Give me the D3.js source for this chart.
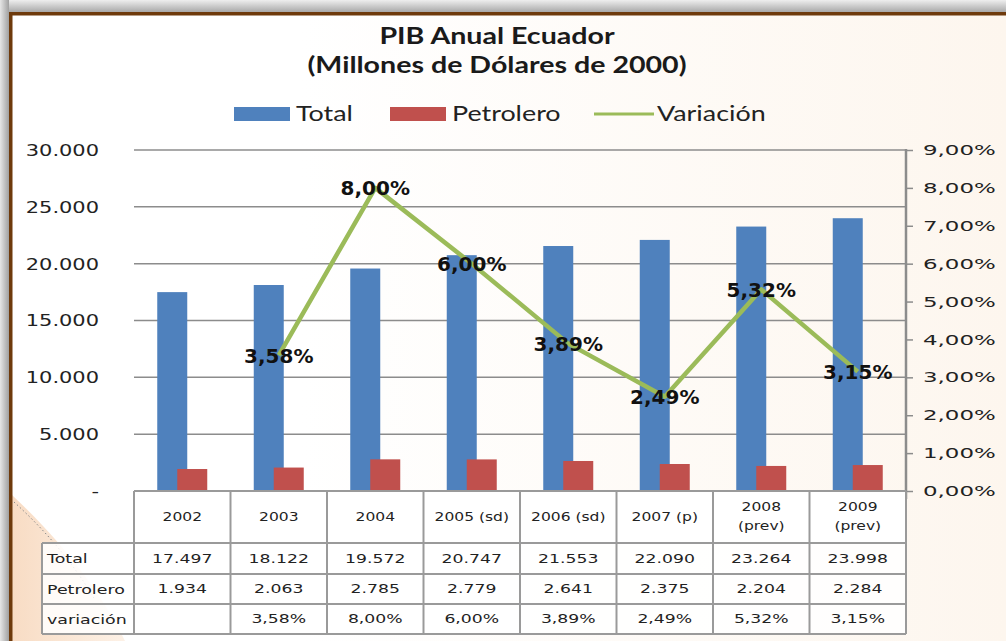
<!DOCTYPE html>
<html>
<head>
<meta charset="utf-8">
<script src="https://cdn.jsdelivr.net/npm/d3@7"></script>
<style>
  body { margin: 0; background: #fff; }
  svg { display: block; }
</style>
</head>
<body>
<div id="chart"></div>
<script>
// data
var years = ["2002", "2003", "2004", "2005 (sd)", "2006 (sd)", "2007 (p)", "2008 (prev)", "2009 (prev)"];
var total = [17497, 18122, 19572, 20747, 21553, 22090, 23264, 23998];
var petrolero = [1934, 2063, 2785, 2779, 2641, 2375, 2204, 2284];
var variacion = [null, 0.0358, 0.08, 0.06, 0.0389, 0.0249, 0.0532, 0.0315];
var leftTicks = [0, 5000, 10000, 15000, 20000, 25000, 30000];
var rightTicks = [0, 0.01, 0.02, 0.03, 0.04, 0.05, 0.06, 0.07, 0.08, 0.09];
var rowLabels = ["Total", "Petrolero", "variación"];
var seriesNames = ["Total", "Petrolero", "Variación"];

var W = 1006, H = 641;
var plot = { left: 134, right: 906, top: 150, bottom: 491 };

var es = d3.formatLocale({ decimal: ",", thousands: ".", grouping: [3], currency: ["$", ""] });
var fmtNum = es.format(",d");
var fmtPct = es.format(".2%");

var blue = "#4F81BD", red = "#C0504D", green = "#9BBB59";
var sansWide = "'DejaVu Sans', Verdana, sans-serif";
var sansCal = "Lato, 'Open Sans', sans-serif";

var svg = d3.select("#chart").append("svg")
  .attr("width", W)
  .attr("height", H);

var defs = svg.append("defs");
var bg = defs.append("linearGradient").attr("id", "bg").attr("x1", "0").attr("x2", "1").attr("y1", "0").attr("y2", "0");
bg.append("stop").attr("offset", "0.3").attr("stop-color", "#ffffff");
bg.append("stop").attr("offset", "1").attr("stop-color", "#fdf6ee");
var shadeTop = defs.append("linearGradient").attr("id", "shadeTop").attr("x1", "0").attr("x2", "0").attr("y1", "0").attr("y2", "1");
shadeTop.append("stop").attr("offset", "0").attr("stop-color", "#eeeeee");
shadeTop.append("stop").attr("offset", "1").attr("stop-color", "#a9a9a9");
var shadeLeft = defs.append("linearGradient").attr("id", "shadeLeft").attr("x1", "0").attr("x2", "1").attr("y1", "0").attr("y2", "0");
shadeLeft.append("stop").attr("offset", "0").attr("stop-color", "#e6e6e6");
shadeLeft.append("stop").attr("offset", "1").attr("stop-color", "#a0a0a0");
var peach = defs.append("linearGradient").attr("id", "peach").attr("x1", "0").attr("x2", "1").attr("y1", "0").attr("y2", "0");
peach.append("stop").attr("offset", "0").attr("stop-color", "#f8dcc4");
peach.append("stop").attr("offset", "1").attr("stop-color", "#fdf1e6");

// background and frame
svg.append("rect").attr("width", W).attr("height", H).attr("fill", "url(#bg)");
svg.append("path")
  .attr("d", "M12,495 C60,540 100,590 125,641 L12,641 Z")
  .attr("fill", "url(#peach)");
svg.append("path")
  .attr("d", "M14,502 C45,530 75,565 95,600")
  .attr("fill", "none")
  .attr("stroke", "#8a8a8a")
  .attr("stroke-width", 1)
  .attr("stroke-dasharray", "1.5,2.5");
svg.append("rect").attr("x", 0).attr("y", 0).attr("width", W).attr("height", 12).attr("fill", "url(#shadeTop)");
svg.append("rect").attr("x", 0).attr("y", 0).attr("width", 9).attr("height", H).attr("fill", "url(#shadeLeft)");
svg.append("rect").attr("x", 9).attr("y", 12).attr("width", W - 9).attr("height", 3.5).attr("fill", "#6e3a0c");
svg.append("rect").attr("x", 9).attr("y", 12).attr("width", 3.5).attr("height", H - 12).attr("fill", "#6e3a0c");

// title
["PIB Anual Ecuador", "(Millones de Dólares de 2000)"].forEach(function (t, i) {
  svg.append("text")
    .attr("transform", "translate(497," + (44 + i * 29) + ") scale(1.3,1)")
    .attr("text-anchor", "middle")
    .style("font-family", sansCal)
    .style("font-weight", "bold")
    .style("font-size", "22px")
    .attr("fill", "#1a1a1a")
    .text(t);
});

// scales
var x = d3.scaleBand()
  .domain(years)
  .range([plot.left, plot.right]);
var yL = d3.scaleLinear().domain([0, 30000]).range([plot.bottom, plot.top]);
var yR = d3.scaleLinear().domain([0, 0.09]).range([plot.bottom, plot.top]);
var barW = 30;

// gridlines
svg.append("g")
  .selectAll("line")
  .data(leftTicks.filter(function (d) { return d > 0; }))
  .enter().append("line")
  .attr("x1", plot.left).attr("x2", plot.right)
  .attr("y1", function (d) { return yL(d); })
  .attr("y2", function (d) { return yL(d); })
  .attr("stroke", "#8c8c8c")
  .attr("stroke-width", 1.5);

// left tick labels
svg.append("g")
  .selectAll("text")
  .data(leftTicks)
  .enter().append("text")
  .attr("transform", function (d) { return "translate(99," + yL(d) + ") scale(1.27,1)"; })
  .attr("text-anchor", "end")
  .attr("dy", "0.36em")
  .style("font-family", sansWide)
  .style("font-size", "16.5px")
  .attr("fill", "#222")
  .text(function (d) { return d === 0 ? "-" : fmtNum(d); });

// right axis
var rAxis = svg.append("g")
  .attr("transform", "translate(" + plot.right + ",0)")
  .call(d3.axisRight(yR).tickValues(rightTicks).tickSize(7).tickPadding(0).tickFormat(fmtPct));
rAxis.select(".domain").attr("stroke", "#8c8c8c").attr("stroke-width", 2.5)
  .attr("d", "M0," + (plot.top - 1) + "V" + (plot.bottom + 8));
rAxis.selectAll(".tick line").attr("stroke", "#8c8c8c").attr("stroke-width", 1.5);
rAxis.selectAll(".tick text")
  .attr("x", 0)
  .attr("transform", "translate(17,0) scale(1.58,1)")
  .style("font-family", sansWide)
  .style("font-size", "14.5px")
  .attr("fill", "#222");

// bars
svg.append("g")
  .selectAll("rect")
  .data(total)
  .enter().append("rect")
  .attr("x", function (d, i) { return x(years[i]) + x.bandwidth() / 2 - 25; })
  .attr("y", function (d) { return yL(d); })
  .attr("width", barW)
  .attr("height", function (d) { return yL(0) - yL(d); })
  .attr("fill", blue);
svg.append("g")
  .selectAll("rect")
  .data(petrolero)
  .enter().append("rect")
  .attr("x", function (d, i) { return x(years[i]) + x.bandwidth() / 2 - 5; })
  .attr("y", function (d) { return yL(d); })
  .attr("width", barW)
  .attr("height", function (d) { return yL(0) - yL(d); })
  .attr("fill", red);

// variation line
var pts = variacion.map(function (v, i) { return { year: years[i], v: v }; })
  .filter(function (d) { return d.v !== null; });
var line = d3.line()
  .x(function (d) { return x(d.year) + x.bandwidth() / 2; })
  .y(function (d) { return yR(d.v); });
svg.append("path")
  .datum(pts)
  .attr("d", line)
  .attr("fill", "none")
  .attr("stroke", green)
  .attr("stroke-width", 4.5)
  .attr("stroke-linejoin", "round");

svg.append("g")
  .selectAll("text")
  .data(pts)
  .enter().append("text")
  .attr("x", function (d) { return x(d.year) + x.bandwidth() / 2; })
  .attr("y", function (d) { return yR(d.v); })
  .attr("dy", "0.36em")
  .attr("text-anchor", "middle")
  .style("font-family", sansWide)
  .style("font-weight", "bold")
  .style("font-size", "20px")
  .attr("fill", "#111")
  .text(function (d) { return fmtPct(d.v); });

// legend
var legend = svg.append("g").style("font-family", sansCal).style("font-size", "21px");
function legendText(lx, str) {
  legend.append("text")
    .attr("transform", "translate(" + lx + ",121) scale(1.28,1)")
    .attr("fill", "#222")
    .text(str);
}
legend.append("rect").attr("x", 234).attr("y", 107).attr("width", 56).attr("height", 14).attr("fill", blue);
legendText(296, seriesNames[0]);
legend.append("rect").attr("x", 390).attr("y", 107).attr("width", 56).attr("height", 14).attr("fill", red);
legendText(452, seriesNames[1]);
legend.append("line").attr("x1", 594).attr("x2", 654).attr("y1", 114).attr("y2", 114).attr("stroke", green).attr("stroke-width", 3);
legendText(657, seriesNames[2]);

// data table
var rowTops = [491, 543, 574, 604, 634];
var labelLeft = 42;
var tbl = svg.append("g");
var gridStroke = "#9a9a9a";

tbl.append("rect")
  .attr("x", plot.left).attr("y", rowTops[0])
  .attr("width", plot.right - plot.left).attr("height", rowTops[1] - rowTops[0])
  .attr("fill", "#fff");
tbl.append("rect")
  .attr("x", labelLeft).attr("y", rowTops[1])
  .attr("width", plot.right - labelLeft).attr("height", rowTops[4] - rowTops[1])
  .attr("fill", "#fff").attr("fill-opacity", 0.85);

// horizontal lines
tbl.selectAll("line.h")
  .data(rowTops)
  .enter().append("line")
  .attr("class", "h")
  .attr("x1", function (d, i) { return i === 0 ? plot.left : labelLeft; })
  .attr("x2", plot.right)
  .attr("y1", function (d) { return d; })
  .attr("y2", function (d) { return d; })
  .attr("stroke", gridStroke)
  .attr("stroke-width", 2);

// vertical lines
var colEdges = years.map(function (d) { return x(d); }).concat([plot.right]);
tbl.selectAll("line.v")
  .data(colEdges)
  .enter().append("line")
  .attr("class", "v")
  .attr("x1", function (d) { return d; })
  .attr("x2", function (d) { return d; })
  .attr("y1", rowTops[0])
  .attr("y2", rowTops[4])
  .attr("stroke", gridStroke)
  .attr("stroke-width", 2);
tbl.append("line")
  .attr("x1", labelLeft).attr("x2", labelLeft)
  .attr("y1", rowTops[1]).attr("y2", rowTops[4])
  .attr("stroke", gridStroke).attr("stroke-width", 2);

function cellText(g, cx, cy, str, size, sx) {
  g.append("text")
    .attr("transform", "translate(" + cx + "," + cy + ") scale(" + sx + ",1)")
    .attr("text-anchor", "middle")
    .attr("dy", "0.36em")
    .style("font-family", sansWide)
    .style("font-size", size + "px")
    .attr("fill", "#222")
    .text(str);
}

// header row
years.forEach(function (yr) {
  var cx = x(yr) + x.bandwidth() / 2;
  var parts = yr.indexOf("prev") >= 0 ? yr.split(" ") : [yr];
  if (parts.length === 1) {
    cellText(tbl, cx, (rowTops[0] + rowTops[1]) / 2, parts[0], 11.5, 1.35);
  } else {
    cellText(tbl, cx, 507, parts[0], 11.5, 1.35);
    cellText(tbl, cx, 526, parts[1], 11.5, 1.35);
  }
});

// value rows
var rows = [
  total.map(function (d) { return fmtNum(d); }),
  petrolero.map(function (d) { return fmtNum(d); }),
  variacion.map(function (d) { return d === null ? "" : fmtPct(d); })
];
rows.forEach(function (r, ri) {
  var cy = (rowTops[ri + 1] + rowTops[ri + 2]) / 2;
  tbl.append("text")
    .attr("transform", "translate(47," + cy + ") scale(1.34,1)")
    .attr("dy", "0.36em")
    .style("font-family", sansWide)
    .style("font-size", "13px")
    .attr("fill", "#222")
    .text(rowLabels[ri]);
  r.forEach(function (v, ci) {
    cellText(tbl, x(years[ci]) + x.bandwidth() / 2, cy, v, 11.5, 1.5);
  });
});
</script>
</body>
</html>
